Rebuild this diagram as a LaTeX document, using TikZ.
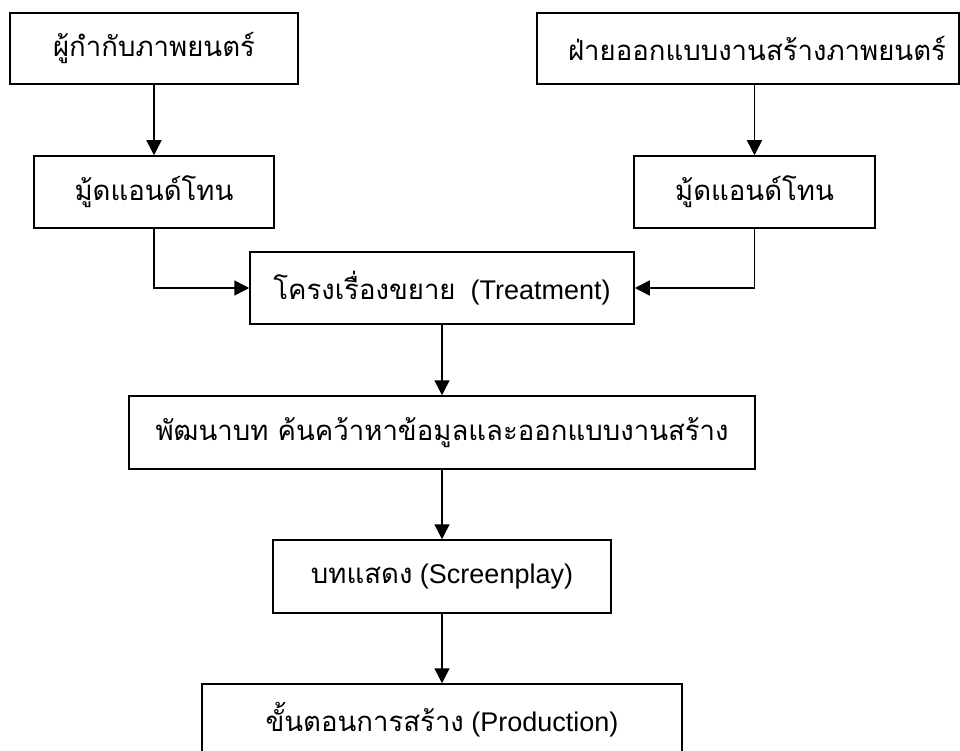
\documentclass[tikz,border=0pt]{standalone}
\usepackage{fontspec}
\setmainfont{Liberation Sans}
\newfontfamily\thaifont[Script=Thai,Scale=1.02]{Loma}
\newfontfamily\enfont{Liberation Sans}
\usetikzlibrary{arrows.meta}
\newcommand{\thtxt}[1]{{\thaifont #1}}
\newcommand{\entxt}[1]{{\enfont #1}}
\begin{document}
\begin{tikzpicture}[x=1pt,y=-1pt,
  box/.style={draw=black,line width=1.5pt,fill=white,inner sep=0pt,font=\fontsize{27}{32}\selectfont},
  arr/.style={line width=1.5pt,-{Triangle[width=15pt,length=15pt]}}]
\useasboundingbox (0,0) rectangle (960,751);
\fill[white] (0,0) rectangle (960,751);
\node[box,minimum width=288pt,minimum height=71pt] (b1) at (154,48.5) {\thtxt{ผู้กำกับภาพยนตร์}};
\node[box,minimum width=240pt,minimum height=72pt] (b2) at (154,192) {\thtxt{มู้ดแอนด์โทน}};
\node[box,minimum width=384pt,minimum height=72pt] (b3) at (442,288) {\thtxt{โครงเรื่องขยาย}\ \ \entxt{(Treatment)}};
\node[box,minimum width=422pt,minimum height=71pt] (b4) at (748,48.5) {\hspace*{18pt}\thtxt{ฝ่ายออกแบบงานสร้างภาพยนตร์}};
\node[box,minimum width=241pt,minimum height=72pt] (b5) at (754.5,192) {\thtxt{มู้ดแอนด์โทน}};
\node[box,minimum width=626pt,minimum height=73pt] (b6) at (442,432.5) {\thtxt{พัฒนาบท ค้นคว้าหาข้อมูลและออกแบบงานสร้าง}};
\node[box,minimum width=338pt,minimum height=73pt] (b7) at (442,576.5) {\thtxt{บทแสดง} \entxt{(Screenplay)}};
\node[box,minimum width=480pt,minimum height=72pt] (b8) at (442,720) {\thtxt{ขั้นตอนการสร้าง} \entxt{(Production)}};
\draw[arr] (b4.south -| b5.north) -- (b5.north);
\draw[arr] (b1.south) -- (b2.north);
\draw[arr] (b2.south) |- (b3.west);
\draw[arr] (b5.south) |- (b3.east);
\draw[arr] (b3.south) -- (b6.north);
\draw[arr] (b6.south) -- (b7.north);
\draw[arr] (b7.south) -- (b8.north);
\end{tikzpicture}
\end{document}
